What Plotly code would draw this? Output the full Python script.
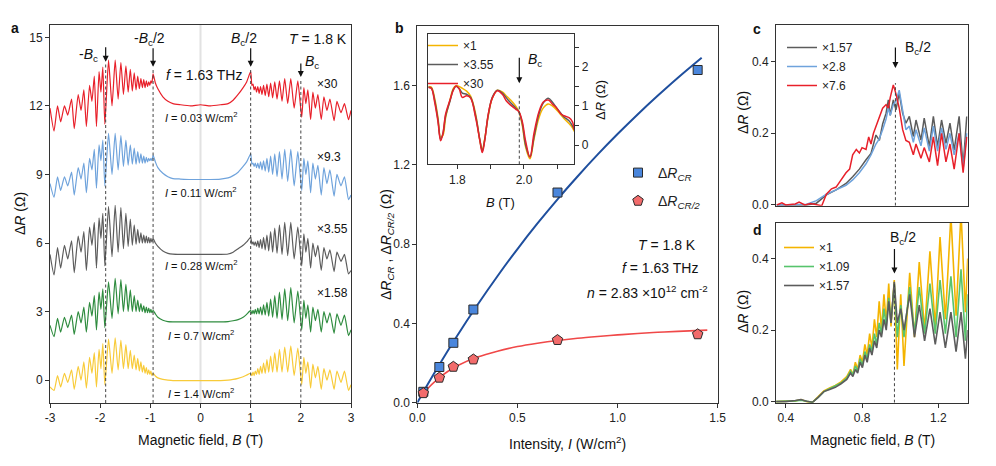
import plotly.graph_objects as go

# page body has an 8px margin: the figure is sized to fit the 996x466 window inside it
OFF = 8
W, H = 996 - OFF, 466 - OFF
FONT = "Liberation Sans, Arial, Helvetica, sans-serif"

# ---------------- Panel a : ΔR vs B (offset curves) ----------------
B_a = [-3.000, -2.920, -2.850, -2.788, -2.712, -2.646, -2.570, -2.517, -2.438, -2.381,
       -2.325, -2.275, -2.211, -2.164, -2.117, -2.074, -2.022, -1.985, -1.947, -1.907,
       -1.833, -1.764, -1.701, -1.642, -1.587, -1.536, -1.487, -1.442, -1.399, -1.359,
       -1.321, -1.285, -1.251, -1.219, -1.188, -1.159, -1.131, -1.105, -1.079, -1.056,
       -1.032, -1.010, -0.989, -0.969, -0.945,
       -0.90, -0.85, -0.75, -0.65, -0.55, -0.40, -0.20, 0.00, 0.20, 0.40, 0.55, 0.65, 0.75, 0.85, 0.92,
       1.000, 1.025, 1.047, 1.069, 1.092, 1.117, 1.142, 1.169, 1.197, 1.226,
       1.257, 1.290, 1.324, 1.360, 1.398, 1.438, 1.480, 1.526, 1.574, 1.625,
       1.679, 1.738, 1.800, 1.867, 1.940, 2.018, 2.060, 2.100, 2.140, 2.195,
       2.240, 2.290, 2.340, 2.407, 2.460, 2.520, 2.580, 2.663, 2.720, 2.800,
       2.870, 2.950, 3.000]

a_red = [11.9, 10.9, 12.0, 11.3, 12.0, 11.6, 12.3, 11.0, 12.5, 11.8,
         12.7, 11.1, 12.9, 12.2, 13.3, 11.1, 13.5, 12.6, 13.7, 11.2,
         14.0, 12.0, 14.0, 12.3, 13.9, 12.5, 13.75, 12.6, 13.6, 12.65,
         13.45, 12.7, 13.3, 12.75, 13.2, 12.8, 13.15, 12.8, 13.1, 12.85,
         13.05, 12.9, 13.1, 13.0, 13.4,
         13.0, 12.75, 12.4, 12.2, 12.1, 12.05, 12.0, 12.05, 12.0, 12.05, 12.1, 12.25, 12.5, 12.8, 13.05,
         13.5, 12.9, 12.95, 12.7, 12.85, 12.6, 12.85, 12.55, 12.85, 12.5,
         12.9, 12.45, 12.95, 12.4, 13.0, 12.35, 13.05, 12.3, 13.1, 12.2,
         13.2, 12.1, 13.2, 11.9, 13.1, 11.5, 12.8, 12.1, 12.7, 11.4,
         12.6, 11.9, 12.5, 11.4, 12.4, 11.8, 12.3, 11.35, 12.2, 11.7,
         12.1, 11.4, 11.8]

a_blue = [8.6, 8.0, 8.9, 8.3, 8.9, 8.5, 9.1, 8.1, 9.3, 8.8,
          9.5, 8.2, 9.7, 9.2, 10.1, 8.4, 10.3, 9.6, 10.5, 8.5,
          10.8, 9.0, 10.8, 9.2, 10.7, 9.35, 10.5, 9.4, 10.3, 9.45,
          10.15, 9.45, 10.0, 9.5, 9.9, 9.5, 9.8, 9.5, 9.75, 9.55,
          9.7, 9.6, 9.7, 9.6, 9.85,
          9.55, 9.3, 9.05, 8.9, 8.82, 8.8, 8.78, 8.78, 8.78, 8.8, 8.85, 8.95, 9.1, 9.35, 9.55,
          9.9, 9.45, 9.5, 9.35, 9.5, 9.3, 9.5, 9.25, 9.55, 9.2,
          9.6, 9.15, 9.7, 9.1, 9.8, 9.0, 9.9, 8.9, 10.0, 8.8,
          10.1, 8.7, 10.1, 8.5, 10.0, 8.3, 9.7, 9.0, 9.6, 8.2,
          9.5, 8.8, 9.4, 8.1, 9.3, 8.6, 9.2, 8.05, 9.0, 8.5,
          8.9, 7.9, 8.1]

a_gray = [5.5, 4.6, 5.8, 4.9, 5.9, 5.3, 6.1, 4.7, 6.3, 5.6,
          6.5, 4.8, 6.7, 5.9, 6.9, 4.9, 7.1, 6.2, 7.3, 5.0,
          7.6, 5.4, 7.65, 5.6, 7.55, 5.75, 7.3, 5.85, 7.05, 5.9,
          6.8, 5.95, 6.6, 6.0, 6.45, 6.0, 6.35, 6.0, 6.3, 6.0,
          6.25, 6.0, 6.2, 6.05, 6.2,
          6.0, 5.85, 5.65, 5.55, 5.51, 5.5, 5.5, 5.5, 5.5, 5.5, 5.52, 5.6, 5.75, 5.9, 6.05,
          6.25, 5.95, 6.05, 5.9, 6.05, 5.85, 6.1, 5.8, 6.15, 5.75,
          6.25, 5.7, 6.35, 5.65, 6.5, 5.6, 6.65, 5.55, 6.8, 5.5,
          6.9, 5.45, 6.9, 5.3, 6.7, 5.0, 6.4, 5.6, 6.2, 4.9,
          6.0, 5.4, 5.9, 4.8, 5.8, 5.3, 5.7, 4.75, 5.6, 5.2,
          5.5, 4.65, 4.8]

a_green = [2.4, 1.9, 2.7, 2.1, 2.75, 2.3, 2.85, 2.0, 3.0, 2.5,
           3.2, 2.1, 3.4, 2.8, 3.7, 2.2, 3.85, 3.1, 4.0, 2.3,
           4.3, 2.7, 4.45, 2.9, 4.4, 3.0, 4.2, 3.0, 3.95, 3.0,
           3.7, 3.0, 3.5, 3.0, 3.35, 3.0, 3.25, 2.95, 3.2, 2.95,
           3.15, 2.95, 3.1, 2.95, 3.05,
           2.9, 2.75, 2.62, 2.56, 2.55, 2.55, 2.55, 2.55, 2.55, 2.55, 2.56, 2.6, 2.65, 2.75, 2.88,
           3.05, 2.9, 3.05, 2.9, 3.1, 2.9, 3.15, 2.9, 3.2, 2.85,
           3.3, 2.85, 3.4, 2.8, 3.55, 2.75, 3.7, 2.7, 3.85, 2.65,
           4.0, 2.6, 4.05, 2.5, 3.9, 2.2, 3.5, 2.7, 3.3, 2.1,
           3.2, 2.6, 3.1, 2.1, 3.0, 2.5, 2.95, 2.05, 2.9, 2.4,
           2.85, 1.95, 2.2]

a_yellow = [-0.3, -0.45, 0.2, -0.3, 0.3, -0.1, 0.45, -0.4, 0.6, 0.0,
            0.8, -0.35, 1.0, 0.3, 1.2, -0.3, 1.35, 0.5, 1.6, -0.2,
            1.8, 0.3, 1.85, 0.45, 1.75, 0.5, 1.55, 0.5, 1.3, 0.5,
            1.1, 0.45, 0.95, 0.4, 0.8, 0.35, 0.65, 0.3, 0.55, 0.25,
            0.45, 0.25, 0.4, 0.2, 0.3,
            0.18, 0.1, 0.03, 0.0, -0.02, -0.02, -0.02, -0.02, -0.02, -0.02, 0.0, 0.03, 0.08, 0.15, 0.22,
            0.3, 0.2, 0.35, 0.2, 0.4, 0.25, 0.5, 0.25, 0.6, 0.3,
            0.75, 0.3, 0.9, 0.35, 1.05, 0.35, 1.2, 0.35, 1.35, 0.35,
            1.45, 0.35, 1.5, 0.2, 1.4, -0.2, 1.0, 0.3, 0.8, -0.35,
            0.7, 0.1, 0.6, -0.4, 0.5, 0.0, 0.45, -0.4, 0.4, -0.1,
            0.4, -0.45, -0.2]

a_scales = ["×30", "×9.3", "×3.55", "×1.58"]
a_intens = ["0.03", "0.11", "0.28", "0.7", "1.4"]
a_marks = [-1.89, -0.945, 1.0, 2.0]

# ---------------- Panel b : ΔR vs intensity ----------------
I_pts = [0.03, 0.11, 0.18, 0.28, 0.70, 1.40]
R_CR = [0.055, 0.18, 0.302, 0.47, 1.06, 1.678]
R_CR2 = [0.048, 0.126, 0.181, 0.218, 0.316, 0.345]
fit_I_CR = [0, 0.05, 0.1, 0.2, 0.3, 0.4, 0.5, 0.6, 0.7, 0.8, 0.9, 1.0, 1.1, 1.2, 1.3, 1.42]
fit_CR = [0, 0.089, 0.175, 0.339, 0.493, 0.638, 0.775, 0.904, 1.026, 1.141, 1.251, 1.355,
          1.454, 1.548, 1.638, 1.740]
fit_I_CR2 = [0.02, 0.05, 0.1, 0.15, 0.2, 0.3, 0.4, 0.5, 0.6, 0.7, 0.8, 0.9, 1.0, 1.1, 1.2, 1.3, 1.448]
fit_CR2 = [0.030, 0.069, 0.118, 0.156, 0.186, 0.230, 0.260, 0.283, 0.300, 0.314, 0.325, 0.334,
           0.342, 0.349, 0.355, 0.360, 0.366]

# inset of b
B_in = [1.713, 1.722, 1.732, 1.742, 1.750, 1.757, 1.765, 1.778, 1.788, 1.796,
        1.805, 1.815, 1.828, 1.840, 1.855, 1.868, 1.875, 1.882, 1.893, 1.905,
        1.920, 1.935, 1.948, 1.960, 1.975, 1.985, 1.995, 2.005, 2.018, 2.030,
        2.045, 2.058, 2.073, 2.085, 2.098, 2.110, 2.120, 2.135, 2.145, 2.151]
in_yellow = [1.5, 1.48, 1.2, 0.7, 0.2, 0.25, 0.7, 1.15, 1.45, 1.52,
             1.5, 1.45, 1.38, 1.25, 0.8, 0.1, -0.12, 0.15, 0.75, 1.2,
             1.4, 1.36, 1.25, 1.15, 1.0, 0.85, 0.5, -0.05, -0.35, 0.15,
             0.7, 0.95, 1.05, 1.0, 0.9, 0.78, 0.68, 0.55, 0.45, 0.35]
in_gray = [1.48, 1.46, 1.15, 0.65, 0.15, 0.3, 0.75, 1.12, 1.42, 1.5,
           1.45, 1.33, 1.3, 1.22, 0.75, 0.12, -0.15, 0.12, 0.78, 1.22,
           1.4, 1.33, 1.2, 1.08, 0.95, 0.85, 0.55, 0.0, -0.3, 0.2,
           0.8, 1.08, 1.2, 1.1, 0.95, 0.82, 0.72, 0.62, 0.5, 0.4]
in_red = [1.47, 1.45, 1.1, 0.6, 0.11, 0.3, 0.8, 1.15, 1.4, 1.51,
          1.45, 1.22, 1.26, 1.2, 0.7, 0.1, -0.19, 0.1, 0.8, 1.2,
          1.39, 1.3, 1.12, 1.02, 0.92, 0.85, 0.6, 0.1, -0.31, 0.3,
          0.85, 1.1, 1.15, 1.05, 0.95, 0.8, 0.75, 0.7, 0.6, 0.39]

# ---------------- Panel c ----------------
B_c = [0.353, 0.510, 0.561, 0.613, 0.664, 0.716, 0.751, 0.786, 0.821, 0.847,
       0.873, 0.891, 0.908, 0.926, 0.938, 0.948, 0.964, 0.978, 0.995, 1.013,
       1.030, 1.048, 1.069, 1.083, 1.109, 1.126, 1.153, 1.174, 1.196, 1.217,
       1.240, 1.261, 1.283, 1.309, 1.330, 1.349]
c_gray = [0, 0.0, 0.005, 0.028, 0.042, 0.06, 0.079, 0.10, 0.126, 0.144,
          0.195, 0.18, 0.226, 0.256, 0.293, 0.25, 0.293, 0.265, 0.312, 0.256,
          0.228, 0.247, 0.191, 0.237, 0.181, 0.242, 0.163, 0.247, 0.163, 0.237,
          0.172, 0.228, 0.153, 0.247, 0.107, 0.247]
c_blue = [0, 0.002, 0.012, 0.03, 0.042, 0.055, 0.07, 0.09, 0.115, 0.14,
          0.17, 0.185, 0.21, 0.24, 0.27, 0.25, 0.28, 0.29, 0.32, 0.26,
          0.21, 0.22, 0.175, 0.21, 0.165, 0.215, 0.15, 0.22, 0.15, 0.215,
          0.155, 0.2, 0.14, 0.2, 0.1, 0.2]
B_c_red = [0.353, 0.38, 0.40, 0.45, 0.47, 0.50, 0.53, 0.561, 0.589, 0.613,
           0.64, 0.664, 0.69, 0.716, 0.735, 0.751, 0.77, 0.786, 0.80, 0.821,
           0.835, 0.847, 0.86, 0.873, 0.891, 0.908, 0.926, 0.938, 0.948, 0.964,
           0.978, 0.995, 1.013, 1.030, 1.048, 1.069, 1.083, 1.109, 1.126, 1.153,
           1.174, 1.196, 1.217, 1.240, 1.261, 1.283, 1.309, 1.330, 1.349]
c_red = [0.0, 0.006, 0.0, 0.003, 0.008, 0.0, 0.004, 0.0, -0.002, 0.03,
         0.045, 0.05, 0.07, 0.09, 0.1, 0.14, 0.155, 0.145, 0.16, 0.155,
         0.19, 0.17, 0.2, 0.22, 0.25, 0.27, 0.28, 0.27, 0.3, 0.335,
         0.31, 0.27, 0.21, 0.18, 0.175, 0.14, 0.17, 0.13, 0.16, 0.12,
         0.19, 0.11, 0.2, 0.12, 0.17, 0.1, 0.2, 0.09, 0.19]

# ---------------- Panel d ----------------
B_d = [0.35, 0.40, 0.45, 0.48, 0.51, 0.54, 0.57, 0.60, 0.63, 0.66,
       0.69, 0.72, 0.74, 0.752, 0.765, 0.777, 0.79, 0.802, 0.815, 0.827,
       0.84, 0.852, 0.865, 0.877, 0.89, 0.902, 0.915, 0.927, 0.94, 0.952,
       0.969, 0.985, 1.003, 1.02, 1.05, 1.075, 1.10, 1.128, 1.156, 1.184,
       1.209, 1.237, 1.266, 1.293, 1.319, 1.342, 1.354]
d_yellow = [0.0, 0.0, 0.002, 0.006, 0.0, -0.002, 0.015, 0.03, 0.038, 0.045,
            0.055, 0.07, 0.09, 0.075, 0.11, 0.09, 0.13, 0.11, 0.16, 0.13,
            0.19, 0.15, 0.23, 0.18, 0.28, 0.2, 0.3, 0.22, 0.33, 0.21,
            0.34, 0.09, 0.3, 0.1, 0.36, 0.18, 0.39, 0.2, 0.42, 0.21,
            0.46, 0.23, 0.52, 0.24, 0.53, 0.25, 0.4]
d_green = [0.0, 0.0, 0.002, 0.004, 0.0, -0.002, 0.012, 0.028, 0.036, 0.043,
           0.052, 0.066, 0.085, 0.075, 0.1, 0.085, 0.12, 0.1, 0.14, 0.12,
           0.16, 0.14, 0.19, 0.16, 0.22, 0.19, 0.26, 0.21, 0.29, 0.22,
           0.33, 0.18, 0.27, 0.18, 0.32, 0.19, 0.32, 0.19, 0.33, 0.19,
           0.34, 0.19, 0.35, 0.18, 0.37, 0.17, 0.3]
d_gray = [0.0, 0.0, 0.003, 0.006, 0.001, -0.002, 0.012, 0.028, 0.034, 0.04,
          0.05, 0.062, 0.08, 0.07, 0.09, 0.08, 0.11, 0.095, 0.13, 0.11,
          0.15, 0.13, 0.17, 0.15, 0.2, 0.18, 0.23, 0.2, 0.28, 0.22,
          0.335, 0.22, 0.26, 0.2, 0.3, 0.18, 0.27, 0.17, 0.26, 0.16,
          0.25, 0.15, 0.25, 0.14, 0.25, 0.12, 0.2]

# colours
RED = "#e8202a"
BLUE_L = "#6fa3dc"
GRAY = "#5c5c5c"
GREEN_A = "#2f8c3f"
YEL_A = "#f8cb3a"
YEL_D = "#f4b400"
GREEN_D = "#57c46c"


def px(x):
    """window pixel x -> paper fraction"""
    return (x - OFF) / W


def py(y):
    """window pixel y -> paper fraction"""
    return 1 - (y - OFF) / H


fig = go.Figure()

# ---- panel a traces
for vals, col in [(a_yellow, YEL_A), (a_green, GREEN_A), (a_gray, GRAY), (a_blue, BLUE_L), (a_red, RED)]:
    fig.add_trace(go.Scatter(x=B_a, y=vals, mode="lines", line=dict(color=col, width=1.2, shape="spline", smoothing=0.5),
                             xaxis="x", yaxis="y", showlegend=False, hoverinfo="skip"))

# ---- panel b traces
fig.add_trace(go.Scatter(x=fit_I_CR, y=fit_CR, mode="lines", line=dict(color="#1f4f9e", width=2, shape="spline"),
                         xaxis="x2", yaxis="y2", showlegend=False, hoverinfo="skip"))
fig.add_trace(go.Scatter(x=fit_I_CR2, y=fit_CR2, mode="lines", line=dict(color="#f04848", width=1.6, shape="spline"),
                         xaxis="x2", yaxis="y2", showlegend=False, hoverinfo="skip"))
fig.add_trace(go.Scatter(x=I_pts, y=R_CR, mode="markers", name="Δ<i>R<sub>CR</sub></i>",
                         marker=dict(symbol="square", size=9, color="#4a86dc", line=dict(color="#2b2b2b", width=1)),
                         xaxis="x2", yaxis="y2", legend="legend", legendgroup="g1"))
fig.add_trace(go.Scatter(x=I_pts, y=R_CR2, mode="markers", name="Δ<i>R<sub>CR/2</sub></i>",
                         marker=dict(symbol="pentagon", size=11, color="#f26b6b", line=dict(color="#2b2b2b", width=1)),
                         xaxis="x2", yaxis="y2", legend="legend", legendgroup="g2"))

# ---- inset traces
for vals, col, nm in [(in_yellow, YEL_D, "×1"), (in_gray, GRAY, "×3.55"), (in_red, RED, "×30")]:
    fig.add_trace(go.Scatter(x=B_in, y=vals, mode="lines", name=nm, line=dict(color=col, width=1.5, shape="spline"),
                             xaxis="x3", yaxis="y3", legend="legend2", hoverinfo="skip"))

# ---- panel c traces
fig.add_trace(go.Scatter(x=B_c, y=c_gray, mode="lines", name="×1.57", line=dict(color=GRAY, width=1.5),
                         xaxis="x4", yaxis="y4", legend="legend3", hoverinfo="skip"))
fig.add_trace(go.Scatter(x=B_c, y=c_blue, mode="lines", name="×2.8", line=dict(color=BLUE_L, width=1.5),
                         xaxis="x4", yaxis="y4", legend="legend3", hoverinfo="skip"))
fig.add_trace(go.Scatter(x=B_c_red, y=c_red, mode="lines", name="×7.6", line=dict(color=RED, width=1.5),
                         xaxis="x4", yaxis="y4", legend="legend3", hoverinfo="skip"))

# ---- panel d traces
for vals, col, nm in [(d_yellow, YEL_D, "×1"), (d_green, GREEN_D, "×1.09"), (d_gray, GRAY, "×1.57")]:
    fig.add_trace(go.Scatter(x=B_d, y=vals, mode="lines", name=nm, line=dict(color=col, width=1.6),
                             xaxis="x5", yaxis="y5", legend="legend4", hoverinfo="skip"))

ax_common = dict(showline=True, linecolor="#333", linewidth=1, mirror=True, ticks="outside",
                 ticklen=4, tickwidth=1, tickcolor="#333", showgrid=False, zeroline=False,
                 automargin=False, tickfont=dict(size=12, color="#222", family=FONT))
ax_noticks = {k: v for k, v in ax_common.items() if k != "ticks"}

legend_common = dict(xanchor="left", yanchor="top", bgcolor="rgba(0,0,0,0)", borderwidth=0,
                     itemwidth=30)

fig.update_layout(
    width=W, height=H, margin=dict(l=0, r=0, t=0, b=0, pad=0, autoexpand=False),
    paper_bgcolor="white", plot_bgcolor="white",
    font=dict(family=FONT, size=12, color="#222"),
    hovermode=False,
    xaxis=dict(domain=[px(50), px(351)], range=[-3, 3], anchor="y",
               tickvals=[-3, -2, -1, 0, 1, 2, 3], ticktext=["-3", "-2", "-1", "0", "1", "2", "3"], **ax_common),
    yaxis=dict(domain=[py(403), py(25)], range=[-1.0, 15.54], anchor="x",
               tickvals=[0, 3, 6, 9, 12, 15], **ax_common),
    xaxis2=dict(domain=[px(417.3), px(717.7)], range=[0, 1.5], anchor="y2",
                tickvals=[0, 0.5, 1.0, 1.5], tickformat=".1f", **ax_common),
    yaxis2=dict(domain=[py(402.7), py(26)], range=[0, 1.9], anchor="x2",
                tickvals=[0, 0.4, 0.8, 1.2, 1.6], tickformat=".1f", **ax_common),
    xaxis3=dict(domain=[px(428.3), px(574.3)], range=[1.713, 2.151], anchor="y3",
                tickvals=[1.8, 2.0], ticktext=["1.8", "2.0"],
                minor=dict(tickvals=[1.9, 2.1], ticks="outside", ticklen=4, tickcolor="#333"), **ax_common),
    yaxis3=dict(domain=[py(164.3), py(34.3)], range=[-0.49, 2.83], anchor="x3", side="right",
                tickvals=[0, 1, 2], ticktext=["0", "1", "2"],
                minor=dict(tickvals=[0.5, 1.5, 2.5], ticks="outside", ticklen=4, tickcolor="#333"), **ax_common),
    xaxis4=dict(domain=[px(776), px(967.7)], range=[0.349, 1.354], anchor="y4",
                showticklabels=False, ticks="", **ax_noticks),
    yaxis4=dict(domain=[py(205.7), py(25)], range=[-0.002, 0.502], anchor="x4",
                tickvals=[0, 0.2, 0.4], tickformat=".1f", **ax_common),
    xaxis5=dict(domain=[px(776), px(967.7)], range=[0.349, 1.354], anchor="y5",
                tickvals=[0.4, 0.8, 1.2], tickformat=".1f", **ax_common),
    yaxis5=dict(domain=[py(402.7), py(222.7)], range=[-0.003, 0.5], anchor="x5",
                tickvals=[0, 0.2, 0.4], tickformat=".1f", **ax_common),
    legend=dict(x=px(618), y=py(157), font=dict(size=14, color="#222"), tracegroupgap=7, **legend_common),
    legend2=dict(x=px(423), y=py(31), font=dict(size=12, color="#222"), traceorder="normal", **legend_common),
    legend3=dict(x=px(782), y=py(33), font=dict(size=12, color="#222"), traceorder="normal", **legend_common),
    legend4=dict(x=px(779), y=py(233), font=dict(size=12, color="#222"), traceorder="normal", **legend_common),
)


def ann(x, y, text, size=12, xanchor="center", yanchor="middle", angle=0, color="#111"):
    return dict(x=px(x), y=py(y), xref="paper", yref="paper", text=text, showarrow=False,
                font=dict(size=size, color=color, family=FONT), xanchor=xanchor, yanchor=yanchor,
                textangle=angle)


def arrow(x, y, xr, yr, ay):
    return dict(x=x, y=y, xref=xr, yref=yr, ax=0, ay=ay, text="", showarrow=True,
                arrowhead=2, arrowsize=1, arrowwidth=1.2, arrowcolor="#111", standoff=0)


annotations = []
# panel letters
annotations += [ann(15, 28, "<b>a</b>", 14), ann(399, 28, "<b>b</b>", 14),
                ann(757, 29, "<b>c</b>", 14), ann(757, 230, "<b>d</b>", 14)]
# axis titles
annotations += [
    ann(200, 440, "Magnetic field, <i>B</i> (T)", 14),
    ann(20, 214, "Δ<i>R</i> (Ω)", 14, angle=-90),
    ann(567, 443, "Intensity, <i>I</i> (W/cm<sup>2</sup>)", 14),
    ann(387, 245, "Δ<i>R<sub>CR</sub></i> , Δ<i>R<sub>CR/2</sub></i> (Ω)", 14, angle=-90),
    ann(500, 202, "<i>B</i> (T)", 13),
    ann(600, 100, "Δ<i>R</i> (Ω)", 13, angle=-90),
    ann(743, 113, "Δ<i>R</i> (Ω)", 14, angle=-90),
    ann(743, 312, "Δ<i>R</i> (Ω)", 14, angle=-90),
    ann(872, 440, "Magnetic field, <i>B</i> (T)", 14),
]
# panel a texts
annotations += [
    ann(88, 55, "-<i>B</i><sub>c</sub>", 14),
    ann(149, 39, "-<i>B</i><sub>c</sub>/2", 14),
    ann(244, 39, "<i>B</i><sub>c</sub>/2", 14),
    ann(318, 39, "<i>T</i> = 1.8 K", 14),
    ann(312, 62, "<i>B</i><sub>c</sub>", 14),
    ann(204, 75, "<i>f</i> = 1.63 THz", 14),
]
for s, yy in zip(a_scales, [84, 157, 229, 293]):
    annotations.append(ann(315, yy, s, 12, xanchor="left"))
for s, yy in zip(a_intens, [117, 192, 265, 335, 393]):
    annotations.append(ann(201, yy, "<i>I</i> = " + s + " W/cm<sup>2</sup>", 11))
# panel b texts
annotations += [
    ann(698, 245, "<i>T</i> = 1.8 K", 14, xanchor="right"),
    ann(700, 268, "<i>f</i> = 1.63 THz", 14, xanchor="right"),
    ann(710, 292, "<i>n</i> = 2.83 ×10<sup>12</sup> cm<sup>-2</sup>", 14, xanchor="right"),
    ann(535, 60, "<i>B</i><sub>c</sub>", 14),
]
# panels c, d texts
annotations += [ann(918, 48, "B<sub>c</sub>/2", 14), ann(903, 238, "B<sub>c</sub>/2", 14)]
# arrows
annotations += [
    arrow(a_marks[0], 13.93, "x", "y", -16),
    arrow(a_marks[1], 13.71, "x", "y", -20),
    arrow(a_marks[2], 13.71, "x", "y", -20),
    arrow(a_marks[3], 13.27, "x", "y", -15),
    arrow(1.986, 1.58, "x3", "y3", -27),
    arrow(0.975, 0.382, "x4", "y4", -22),
    arrow(0.97, 0.358, "x5", "y5", -26),
]
fig.update_layout(annotations=annotations)

DASH = "3px,2.5px"
shapes = [dict(type="line", xref="x", yref="y", x0=0, x1=0, y0=-1.0, y1=15.54,
               line=dict(color="#e2e2e2", width=2), layer="below")]
for xm, ytop in zip(a_marks, [13.85, 13.6, 13.6, 13.2]):
    shapes.append(dict(type="line", xref="x", yref="y", x0=xm, x1=xm, y0=-1.0, y1=ytop,
                       line=dict(color="#444", width=1, dash=DASH)))
shapes.append(dict(type="line", xref="x3", yref="y3", x0=1.986, x1=1.986, y0=-0.49, y1=1.30,
                   line=dict(color="#444", width=1, dash=DASH)))
shapes.append(dict(type="line", xref="x4", yref="y4", x0=0.975, x1=0.975, y0=-0.002, y1=0.34,
                   line=dict(color="#444", width=1, dash=DASH)))
shapes.append(dict(type="line", xref="x5", yref="y5", x0=0.97, x1=0.97, y0=-0.003, y1=0.335,
                   line=dict(color="#444", width=1, dash=DASH)))
fig.update_layout(shapes=shapes)

fig.write_html("out.html")
